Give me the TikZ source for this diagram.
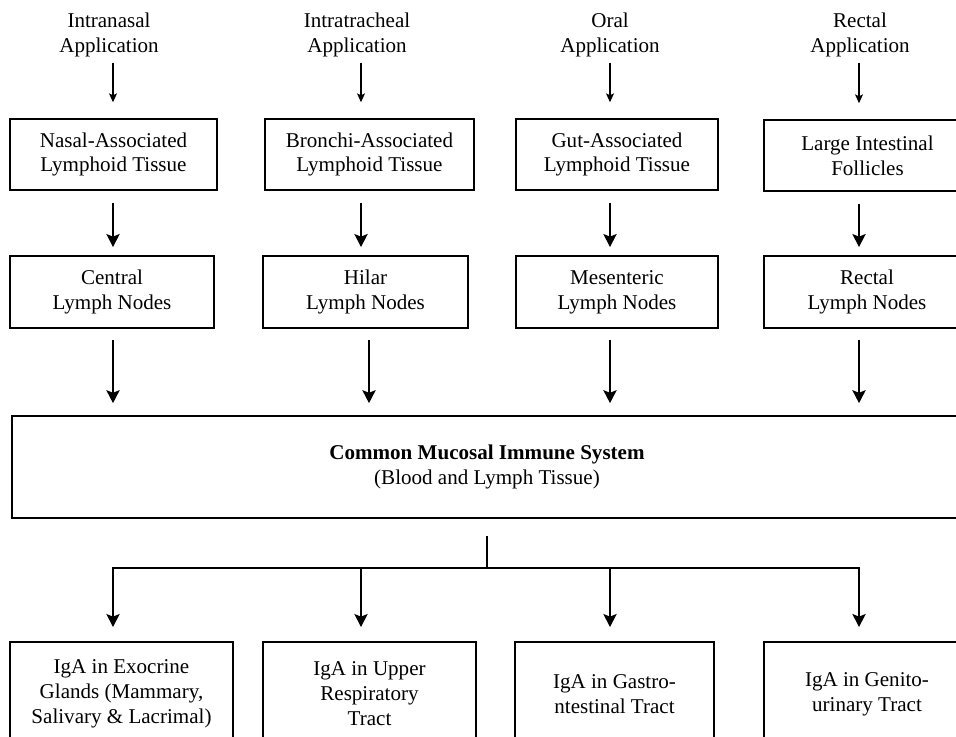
\documentclass[tikz,border=0pt]{standalone}
\usepackage{fontspec}
\setmainfont{Liberation Serif}
\usetikzlibrary{arrows.meta,positioning}
\tikzset
{
    flowbox/.style  = {rectangle, draw=black, line width=1.1pt, align=center, inner sep=2pt, minimum width=#1*0.57pt},
    tissue/.style   = {flowbox=#1, minimum height=40.5pt},
    lymph/.style    = {flowbox=#1, minimum height=41pt},
    iga/.style      = {flowbox=#1, minimum height=59.3pt},
    apptext/.style  = {align=center, inner sep=0pt},
    thin arrow/.style  = {-{Stealth[length=5pt, width=4.5pt, inset=1pt]}, line width=0.6pt},
    thick arrow/.style = {-{Stealth[length=7.4pt, width=7.6pt, inset=1.5pt]}, line width=1pt}
}

\begin{document}
\begin{tikzpicture}[x=0.57pt, y=-0.57pt, font=\fontsize{12}{14.2}\selectfont]
    \useasboundingbox (0,0) rectangle (956,736);
    \clip (0,0) rectangle (956,736);

    % columns of the arrows
    \coordinate (c1) at (113,0);
    \coordinate (c2) at (361,0);
    \coordinate (c3) at (610,0);
    \coordinate (c4) at (859,0);
    \coordinate (d2) at (369,0);

    % routes of application
    \node [apptext] (intranasal)    at (109,35) {Intranasal\\Application};
    \node [apptext] (intratracheal) at (357,35) {Intratracheal\\Application};
    \node [apptext] (oral)          at (610,35) {Oral\\Application};
    \node [apptext] (rectal)        at (860,35) {Rectal\\Application};

    % lymphoid tissue
    \node [tissue=207] (nalt)  at (113.5,154.5) {Nasal-Associated\\Lymphoid Tissue};
    \node [tissue=209] (balt)  at (369.5,154.5) {Bronchi-Associated\\Lymphoid Tissue};
    \node [tissue=202] (galt)  at (617,154.5)   {Gut-Associated\\Lymphoid Tissue};
    \node [tissue=207] (follicles) at (867.5,155.5) {Large Intestinal\\Follicles};

    % lymph nodes
    \node [lymph=204] (central)    at (112,292)   {Central\\Lymph Nodes};
    \node [lymph=205] (hilar)      at (365.5,292) {Hilar\\Lymph Nodes};
    \node [lymph=202] (mesenteric) at (617,292)   {Mesenteric\\Lymph Nodes};
    \node [lymph=206] (rectalln)   at (867,292)   {Rectal\\Lymph Nodes};

    \node [flowbox=950, minimum height=58.1pt] (cmis) at (487,467)
        {\textbf{Common Mucosal Immune System}\\(Blood and Lymph Tissue)};

    % secretory IgA
    \node [iga=223] (exocrine) at (121.5,694) {IgA in Exocrine\\Glands (Mammary,\\Salivary \& Lacrimal)};
    \node [iga=213] (upper)    at (369.5,694) {IgA in Upper\\Respiratory\\Tract};
    \node [iga=199] (gastro)   at (614.5,694) {IgA in Gastro-\\ntestinal Tract};
    \node [iga=206] (genito)   at (867,694)   {IgA in Genito-\\urinary Tract};

    \foreach \app/\tis/\col in {intranasal/nalt/c1, intratracheal/balt/c2, oral/galt/c3, rectal/follicles/c4}
        \draw [thin arrow, shorten <=3pt, shorten >=9pt] (\app.south -| \col) -- (\tis.north -| \col);
    \foreach \tis/\lym/\col in {nalt/central/c1, balt/hilar/c2, galt/mesenteric/c3, follicles/rectalln/c4}
        \draw [thick arrow, shorten <=6.8pt, shorten >=4.6pt] (\tis.south -| \col) -- (\lym.north -| \col);
    \foreach \lym/\col in {central/c1, hilar/d2, mesenteric/c3, rectalln/c4}
        \draw [thick arrow, shorten <=6.3pt, shorten >=6.8pt] (\lym.south -| \col) -- (cmis.north -| \col);

    \coordinate (hub) at (487,568);
    \draw [line width=1pt, shorten <=9.7pt] (cmis.south -| hub) -- (hub);
    \foreach \iga/\col in {exocrine/c1, upper/c2, gastro/c3, genito/c4}
        \draw [thick arrow, shorten >=8pt] (hub) -| (\iga.north -| \col);
\end{tikzpicture}
\end{document}
